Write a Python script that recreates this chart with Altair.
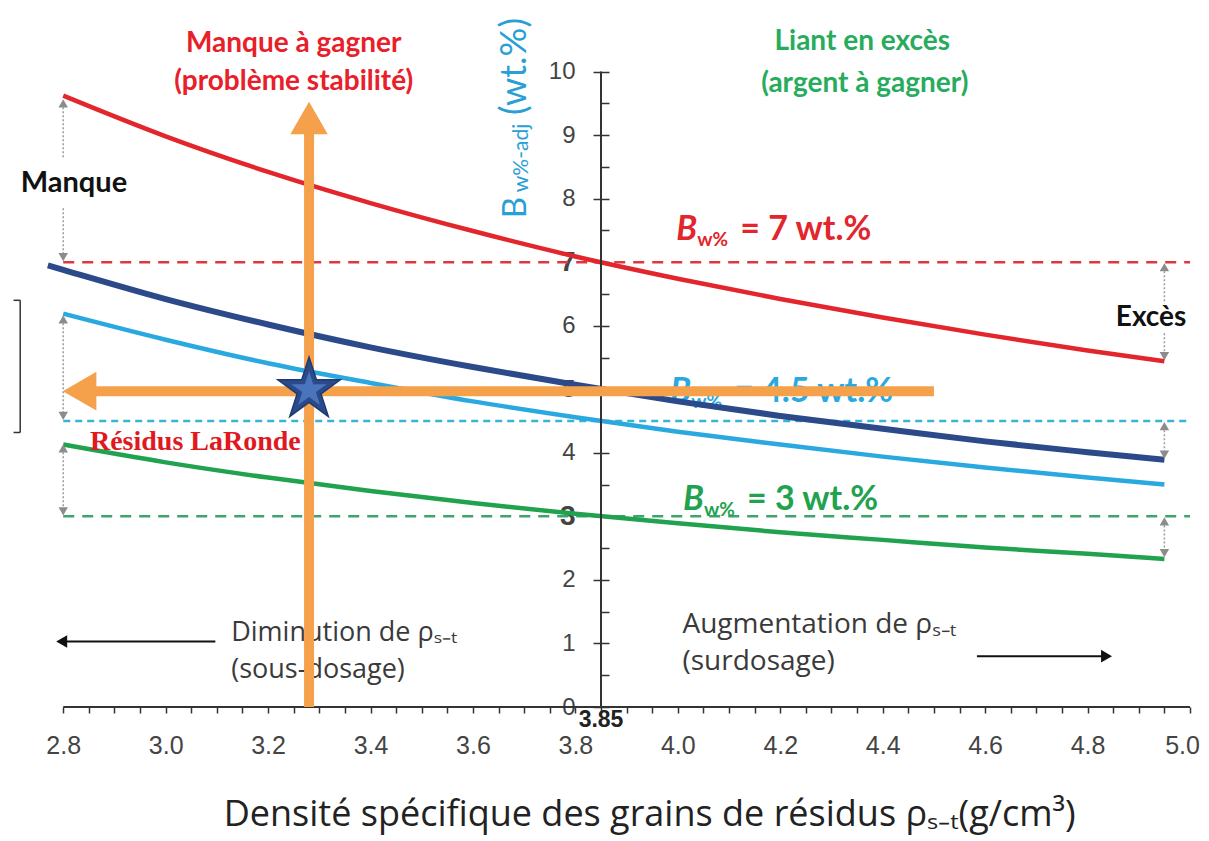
import altair as alt
import pandas as pd

# ---------------- values ----------------
rho = [2.8, 3.0, 3.2, 3.4, 3.6, 3.8, 4.0, 4.2, 4.4, 4.6, 4.8, 4.95]
bw7_adj = [9.62, 8.98, 8.42, 7.93, 7.49, 7.09, 6.74, 6.42, 6.13, 5.86, 5.61, 5.44]
bw45_adj = [6.19, 5.78, 5.41, 5.10, 4.81, 4.56, 4.33, 4.13, 3.94, 3.77, 3.61, 3.50]
bw3_adj = [4.13, 3.85, 3.61, 3.40, 3.21, 3.04, 2.89, 2.75, 2.63, 2.51, 2.41, 2.33]
rho_laronde = [2.77, 2.8, 3.0, 3.2, 3.4, 3.6, 3.8, 4.0, 4.2, 4.4, 4.6, 4.8, 4.95]
bw_laronde = [6.95, 6.88, 6.42, 6.02, 5.66, 5.35, 5.07, 4.81, 4.58, 4.38, 4.18, 4.01, 3.89]

levels = [7.0, 4.5, 3.0]
level_series = ["Bw7", "Bw45", "Bw3"]
rho_ref = 3.85
residus_rho = 3.28
residus_bw = 4.97

x_labels = [2.8, 3.0, 3.2, 3.4, 3.6, 3.8, 4.0, 4.2, 4.4, 4.6, 4.8, 5.0]
x_ticks = [round(2.8 + 0.05 * i, 2) for i in range(45)]
y_labels = [0, 1, 2, 3, 4, 5, 6, 7, 8, 9, 10]
y_minor = [0.5, 1.5, 2.5, 3.5, 4.5, 5.5, 6.5, 7.5, 8.5, 9.5]

series = ["Bw7", "Bw45", "Bw3", "LaRonde"]
series_colors = ["#e3252c", "#2aa9e0", "#21a24f", "#2c4a8a"]
dash_colors = ["#df3740", "#35b6d4", "#3ea36c"]

# ---------------- geometry ----------------
X0, X1 = 2.7, 5.0
W, H = 1178, 699
XS = alt.Scale(domain=[X0, X1], nice=False, zero=False)
YS = alt.Scale(domain=[0, 11], nice=False, zero=False)
AX_POS = (rho_ref - X0) / (X1 - X0) * W  # pixel position of the y axis in the plot

FONT = "Lato"
FONT2 = "Open Sans"


def base(df):
    return alt.Chart(df)


def xy(xf="x", yf="y"):
    return dict(x=alt.X(f"{xf}:Q", scale=XS, axis=None),
                y=alt.Y(f"{yf}:Q", scale=YS, axis=None))


def txt(x, y, t, **style):
    df = pd.DataFrame({"x": [x], "y": [y], "t": [t]})
    return base(df).mark_text(**style).encode(text="t:N", **xy())


# ---------------- axes (carried by an invisible layer) ----------------
x_axis = alt.Axis(values=x_ticks, orient="bottom", domain=False, grid=False, tickSize=6, tickWidth=1.5,
                  tickColor="#333333", labelFont="Liberation Sans", labelFontSize=25,
                  labelColor="#444444", labelPadding=20, labelFlush=False, labelOverlap=False,
                  labelOffset={"condition": {"test": "datum.value >= 4.99", "value": -8}, "value": 0},
                  labelExpr="(abs(datum.value*5 - round(datum.value*5)) < 0.001) ? format(datum.value, '.1f') : ''",
                  title=None)
y_axis = alt.Axis(values=y_labels, orient="left", offset=-(AX_POS + 8), domain=False, grid=False,
                  tickSize=16, tickWidth=1.5, tickColor="#333333", labelFont="Liberation Sans",
                  labelFontSize={"condition": {"test": "datum.value == 7 || datum.value == 3", "value": 28}, "value": 24},
                  labelFontWeight={"condition": {"test": "datum.value == 7 || datum.value == 3", "value": "bold"}, "value": "normal"},
                  labelColor="#444444", labelPadding=18, title=None)
y_minor_axis = alt.Axis(values=y_minor, orient="right", offset=AX_POS - W, domain=False, grid=False,
                        tickSize=8, tickWidth=1.5, tickColor="#333333", labels=False, title=None)

xaxis_layer = base(pd.DataFrame({"x": x_labels, "y": [0.0] * len(x_labels)})).mark_point(opacity=0).encode(
    x=alt.X("x:Q", scale=XS, axis=x_axis), y=alt.Y("y:Q", scale=YS, axis=y_axis))

# dashed target levels (carry the minor tick axis)
lev_df = pd.DataFrame({"lvl": levels, "serie": level_series, "x0": [2.8] * 3, "x1": [5.0] * 3})
dash_red = base(lev_df.iloc[[0]]).mark_rule(strokeDash=[11, 8], strokeWidth=2.5, color=dash_colors[0]).encode(
    x=alt.X("x0:Q", scale=XS, axis=None), x2="x1:Q",
    y=alt.Y("lvl:Q", scale=YS, axis=y_minor_axis))
dash_cyan = base(lev_df.iloc[[1]]).mark_rule(strokeDash=[7, 5], strokeWidth=2.5, color=dash_colors[1]).encode(
    x=alt.X("x0:Q", scale=XS, axis=None), x2="x1:Q", y=alt.Y("lvl:Q", scale=YS, axis=None))
dash_green = base(lev_df.iloc[[2]]).mark_rule(strokeDash=[11, 8], strokeWidth=2.5, color=dash_colors[2]).encode(
    x=alt.X("x0:Q", scale=XS, axis=None), x2="x1:Q", y=alt.Y("lvl:Q", scale=YS, axis=None))


# B_w% labels (below curves)
def bw_label(x, y, col, val):
    return [
        txt(x, y, "B", font=FONT, fontSize=34, fontWeight="bold", fontStyle="italic", color=col,
            align="left", baseline="middle"),
        txt(x, y, "w%", font=FONT, fontSize=19, fontWeight="bold", color=col,
            align="left", baseline="middle", dx=21, dy=10),
        txt(x, y, f"= {val} wt.%", font=FONT, fontSize=34, fontWeight="bold", color=col,
            align="left", baseline="middle", dx=64),
    ]


bw_texts = (bw_label(3.997, 7.5, "#e3252c", "7") + bw_label(3.985, 4.95, "#2aa9e0", "4.5")
            + bw_label(4.01, 3.25, "#21a24f", "3"))


# curves
def curve(xs_, ys_, col, w):
    df = pd.DataFrame({"rho": xs_, "bw": ys_})
    return base(df).mark_line(strokeWidth=w, color=col, interpolate="monotone").encode(
        x=alt.X("rho:Q", scale=XS, axis=None), y=alt.Y("bw:Q", scale=YS, axis=None), order="rho:Q")


curves = [curve(rho, bw7_adj, series_colors[0], 4.5),
          curve(rho, bw45_adj, series_colors[1], 4.5),
          curve(rho, bw3_adj, series_colors[2], 4.5),
          curve(rho_laronde, bw_laronde, series_colors[3], 6)]

# axis lines
axis_df = pd.DataFrame({"xa": [rho_ref, 2.8], "xb": [rho_ref, 5.0], "ya": [0, 0], "yb": [10, 0]})
axis_lines = base(axis_df).mark_rule(color="#333333", strokeWidth=2).encode(
    x=alt.X("xa:Q", scale=XS, axis=None), x2="xb:Q",
    y=alt.Y("ya:Q", scale=YS, axis=None), y2="yb:Q")

# grey dotted double arrows
seg_df = pd.DataFrame({
    "x": [2.8, 2.8, 2.8, 2.8, 4.95, 4.95, 4.95, 4.95],
    "ya": [9.5, 7.85, 6.1, 4.07, 6.92, 5.88, 4.42, 2.92],
    "yb": [8.65, 7.08, 4.58, 3.08, 6.35, 5.52, 3.97, 2.42],
})
segs = base(seg_df).mark_rule(color="#9a9a9a", strokeWidth=1.5, strokeDash=[2, 2]).encode(
    x=alt.X("x:Q", scale=XS, axis=None),
    y=alt.Y("ya:Q", scale=YS, axis=None), y2="yb:Q")
up_df = pd.DataFrame({"x": [2.8, 2.8, 2.8, 4.95, 4.95, 4.95], "y": [9.5, 6.1, 4.07, 6.92, 4.42, 2.92]})
dn_df = pd.DataFrame({"x": [2.8, 2.8, 2.8, 4.95, 4.95, 4.95], "y": [7.08, 4.58, 3.08, 5.52, 3.97, 2.42]})
heads_up = base(up_df).mark_point(shape="triangle-up", filled=True, size=90, color="#8c8c8c", opacity=1).encode(**xy())
heads_dn = base(dn_df).mark_point(shape="triangle-down", filled=True, size=90, color="#8c8c8c", opacity=1).encode(**xy())

# bracket on the far left
br_df = pd.DataFrame({"xa": [2.716, 2.703, 2.703], "xb": [2.716, 2.716, 2.716],
                      "ya": [4.32, 6.4, 4.32], "yb": [6.4, 6.4, 4.32]})
bracket = base(br_df).mark_rule(color="#333333", strokeWidth=1.5).encode(
    x=alt.X("xa:Q", scale=XS, axis=None), x2="xb:Q",
    y=alt.Y("ya:Q", scale=YS, axis=None), y2="yb:Q")

texts = [
    txt(3.25, 10.44, "Manque à gagner", font=FONT, fontSize=28, fontWeight="bold", color="#e8202a"),
    txt(3.25, 9.84, "(problème stabilité)", font=FONT, fontSize=28, fontWeight="bold", color="#e8202a"),
    txt(4.36, 10.46, "Liant en excès", font=FONT, fontSize=28, fontWeight="bold", color="#27ab5c"),
    txt(4.365, 9.81, "(argent à gagner)", font=FONT, fontSize=28, fontWeight="bold", color="#27ab5c"),
    txt(2.821, 8.24, "Manque", font=FONT, fontSize=29, fontWeight="bold", color="#111111"),
    txt(4.924, 6.12, "Excès", font=FONT, fontSize=28, fontWeight="bold", color="#111111"),
    txt(3.128, 1.16, "Diminution de ρₛ₋ₜ", font=FONT2, fontSize=27, color="#3a3a3a", align="left"),
    txt(3.128, 0.58, "(sous-dosage)", font=FONT2, fontSize=27, color="#3a3a3a", align="left"),
    txt(4.009, 1.29, "Augmentation de ρₛ₋ₜ", font=FONT2, fontSize=28, color="#3a3a3a", align="left"),
    txt(4.009, 0.71, "(surdosage)", font=FONT2, fontSize=28, color="#3a3a3a", align="left"),
    txt(rho_ref, -0.2, "3.85", font="Liberation Sans", fontSize=23, fontWeight="bold", color="#222222"),
    txt(3.683, 10.08, "(wt.%)", font=FONT, fontSize=36, color="#2a9fd6", angle=270),
    txt(3.695, 8.64, "w%-adj", font=FONT, fontSize=21, color="#2a9fd6", angle=270),
    txt(3.685, 7.86, "B", font=FONT, fontSize=33, color="#2a9fd6", angle=270),
    txt(3.058, 4.17, "Résidus LaRonde", font="Liberation Serif", fontSize=28, fontWeight="bold", color="#e0191f"),
    txt(3.945, -1.88, "Densité spécifique des grains de résidus ρₛ₋ₜ(g/cm³)", font=FONT2, fontSize=36,
        color="#222222", baseline="alphabetic"),
]

# black direction arrows
blk_df = pd.DataFrame({"xa": [3.097, 4.584], "xb": [2.80, 4.83], "y": [1.03, 0.80]})
blk_lines = base(blk_df).mark_rule(color="#111111", strokeWidth=2).encode(
    x=alt.X("xa:Q", scale=XS, axis=None), x2="xb:Q", y=alt.Y("y:Q", scale=YS, axis=None))
blk_l = base(pd.DataFrame({"x": [2.797], "y": [1.03]})).mark_point(
    shape="triangle-left", filled=True, size=160, color="#111111", opacity=1).encode(**xy())
blk_r = base(pd.DataFrame({"x": [4.837], "y": [0.80]})).mark_point(
    shape="triangle-right", filled=True, size=160, color="#111111", opacity=1).encode(**xy())

# orange arrows through the LaRonde tailings point
ORANGE = "#f5a04a"
or_df = pd.DataFrame({"xa": [residus_rho, 2.86], "xb": [residus_rho, 4.50],
                      "ya": [0, residus_bw], "yb": [9.15, residus_bw]})
or_lines = base(or_df).mark_rule(color=ORANGE, strokeWidth=10).encode(
    x=alt.X("xa:Q", scale=XS, axis=None), x2="xb:Q",
    y=alt.Y("ya:Q", scale=YS, axis=None), y2="yb:Q")
or_up = base(pd.DataFrame({"x": [residus_rho], "y": [9.27]})).mark_point(
    shape="triangle-up", filled=True, size=1400, color=ORANGE, opacity=1).encode(**xy())
or_left = base(pd.DataFrame({"x": [2.832], "y": [residus_bw]})).mark_point(
    shape="triangle-left", filled=True, size=1500, color=ORANGE, opacity=1).encode(**xy())

STAR = ("M0,-1L0.2245,-0.309L0.951,-0.309L0.363,0.118L0.588,0.809L0,0.382"
        "L-0.588,0.809L-0.363,0.118L-0.951,-0.309L-0.2245,-0.309Z")
star_df = pd.DataFrame({"x": [residus_rho], "y": [4.99]})
star_outer = base(star_df).mark_point(shape=STAR, filled=True, size=4300, color="#2b4a8b",
                                      stroke="#1f3a70", strokeWidth=1.5, opacity=1).encode(**xy())
star_inner = base(star_df).mark_point(shape=STAR, filled=True, size=1400, color="#4a74bb",
                                      opacity=1).encode(**xy())

layers = ([xaxis_layer, dash_red, dash_cyan, dash_green] + bw_texts + curves
          + [axis_lines, segs, heads_up, heads_dn, bracket]
          + texts + [blk_lines, blk_l, blk_r, or_lines, or_up, or_left, star_outer, star_inner])

chart = alt.layer(*layers).resolve_axis(x="independent", y="independent").properties(
    width=W, height=H,
    autosize=alt.AutoSizeParams(type="none"),
    padding={"left": 4, "top": 0, "right": 11, "bottom": 140},
    background="white",
).configure_view(stroke=None)

chart.save("out.html", embed_options={"renderer": "svg", "actions": False})
